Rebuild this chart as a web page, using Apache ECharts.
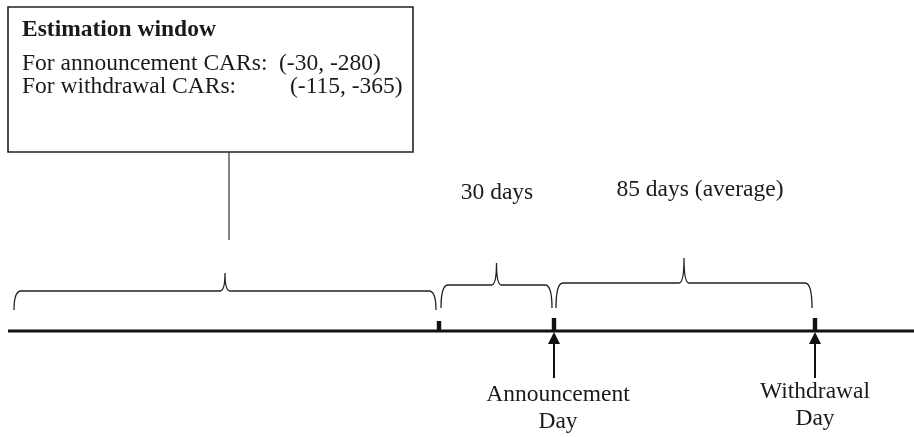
<!DOCTYPE html>
<html>
<head>
<meta charset="utf-8">
<script src="https://cdn.jsdelivr.net/npm/echarts@6/dist/echarts.min.js"></script>
<style>
html,body{margin:0;padding:0;background:#fff;}
#chart{width:914px;height:437px;}
</style>
</head>
<body>
<div id="chart"></div>
<script>
// ---- data (schematic timeline, not to scale) ----
const boxTitle = 'Estimation window';
const boxLabels = ['For announcement CARs:', 'For withdrawal CARs:'];
const boxWindows = ['(-30, -280)', '(-115, -365)'];
const eventNames = ['', 'Announcement\nDay', 'Withdrawal\nDay'];
const eventPositions = [439, 554, 815];
const segmentLabels = ['', '30 days', '85 days (average)'];
const segmentStarts = [14, 441, 556];
const segmentEnds = [436, 552, 812];

// ---- layout (diagram units, y grows downwards) ----
const FONT = '"Liberation Serif","Times New Roman",serif';
const FS = 23.5;
const lineY = 331;
const braceTop = [291, 285, 283];
const bracePeak = [273, 263, 258];
const braceEnd = [310, 308, 308];
const segLabelX = [0, 497, 700];
const segLabelY = [0, 193, 190];
const tickTop = [321, 318, 318];
const eventLabelDx = [0, 4, 0];
const eventLabelY = [0, 395, 392];
const boxLineY = [64, 87];
const windowX = [279, 290];
const ink = '#1a1a1a';

const chart = echarts.init(document.getElementById('chart'), null, {renderer: 'canvas'});

const idx = (n) => Array.from({length: n}, (_, i) => [i]);

const option = {
  animation: false,
  backgroundColor: '#fff',
  grid: {left: 0, right: 0, top: 0, bottom: 0},
  xAxis: {type: 'value', min: 0, max: 914, show: false},
  yAxis: {type: 'value', min: 0, max: 437, inverse: true, show: false},
  series: [
    // estimation window box + text + connector
    {
      type: 'custom', data: [[0]],
      renderItem: function (params, api) {
        const p0 = api.coord([8, 7]);
        const p1 = api.coord([413, 152]);
        const c0 = api.coord([229, 152]);
        const c1 = api.coord([229, 240]);
        const children = [
          {type: 'rect', shape: {x: p0[0], y: p0[1], width: p1[0] - p0[0], height: p1[1] - p0[1]},
           style: {fill: '#fff', stroke: '#222', lineWidth: 1.6}},
          {type: 'line', shape: {x1: c0[0], y1: c0[1], x2: c1[0], y2: c1[1]},
           style: {stroke: '#333', lineWidth: 1.2}},
        ];
        const t = api.coord([22, 30]);
        children.push({type: 'text', style: {text: boxTitle, x: t[0], y: t[1], fill: ink,
          font: 'bold ' + FS + 'px ' + FONT, align: 'left', verticalAlign: 'middle'}});
        boxLabels.forEach(function (lab, i) {
          const a = api.coord([22, boxLineY[i]]);
          const b = api.coord([windowX[i], boxLineY[i]]);
          children.push({type: 'text', style: {text: lab, x: a[0], y: a[1], fill: ink,
            font: FS + 'px ' + FONT, align: 'left', verticalAlign: 'middle'}});
          children.push({type: 'text', style: {text: boxWindows[i], x: b[0], y: b[1], fill: ink,
            font: FS + 'px ' + FONT, align: 'left', verticalAlign: 'middle'}});
        });
        return {type: 'group', children: children};
      }
    },
    // main timeline
    {
      type: 'line', data: [[8, lineY], [914, lineY]], symbol: 'none',
      lineStyle: {color: '#111', width: 3}
    },
    // braces with labels
    {
      type: 'custom', data: idx(segmentStarts.length),
      renderItem: function (params, api) {
        const i = api.value(0);
        const x0 = api.coord([segmentStarts[i], 0])[0];
        const x1 = api.coord([segmentEnds[i], 0])[0];
        const xm = (x0 + x1) / 2;
        const yT = api.coord([0, braceTop[i]])[1];
        const yP = api.coord([0, bracePeak[i]])[1];
        const yE = api.coord([0, braceEnd[i]])[1];
        const d = 'M' + x0 + ',' + yE + ' Q' + x0 + ',' + yT + ' ' + (x0 + 7) + ',' + yT +
          ' L' + (xm - 5) + ',' + yT + ' Q' + xm + ',' + yT + ' ' + xm + ',' + yP +
          ' Q' + xm + ',' + yT + ' ' + (xm + 5) + ',' + yT +
          ' L' + (x1 - 7) + ',' + yT + ' Q' + x1 + ',' + yT + ' ' + x1 + ',' + yE;
        const children = [{type: 'path', shape: {pathData: d},
          style: {fill: null, stroke: '#222', lineWidth: 1.3}}];
        if (segmentLabels[i]) {
          const lp = api.coord([segLabelX[i], segLabelY[i]]);
          children.push({type: 'text', style: {text: segmentLabels[i], x: lp[0], y: lp[1], fill: ink,
            font: FS + 'px ' + FONT, align: 'center', verticalAlign: 'middle'}});
        }
        return {type: 'group', children: children};
      }
    },
    // event ticks, arrows, labels
    {
      type: 'custom', data: idx(eventPositions.length),
      renderItem: function (params, api) {
        const i = api.value(0);
        const x = api.coord([eventPositions[i], 0])[0];
        const yL = api.coord([0, lineY])[1];
        const yTick = api.coord([0, tickTop[i]])[1];
        const children = [{type: 'rect', shape: {x: x - 2.2, y: yTick, width: 4.4, height: yL - yTick},
          style: {fill: '#111'}}];
        if (eventNames[i]) {
          const tip = api.coord([0, lineY + 1])[1];
          const base = api.coord([0, lineY + 13])[1];
          const end = api.coord([0, lineY + 47])[1];
          children.push({type: 'polygon', shape: {points: [[x, tip], [x - 6, base], [x + 6, base]]},
            style: {fill: '#111'}});
          children.push({type: 'line', shape: {x1: x, y1: base - 1, x2: x, y2: end},
            style: {stroke: '#111', lineWidth: 2}});
          const ly = api.coord([0, eventLabelY[i]])[1];
          const parts = eventNames[i].split('\n');
          parts.forEach(function (p, k) {
            children.push({type: 'text', style: {text: p, x: x + eventLabelDx[i], y: ly + k * 27, fill: ink,
              font: FS + 'px ' + FONT, align: 'center', verticalAlign: 'middle'}});
          });
        }
        return {type: 'group', children: children};
      }
    }
  ]
};
chart.setOption(option);
</script>
</body>
</html>
